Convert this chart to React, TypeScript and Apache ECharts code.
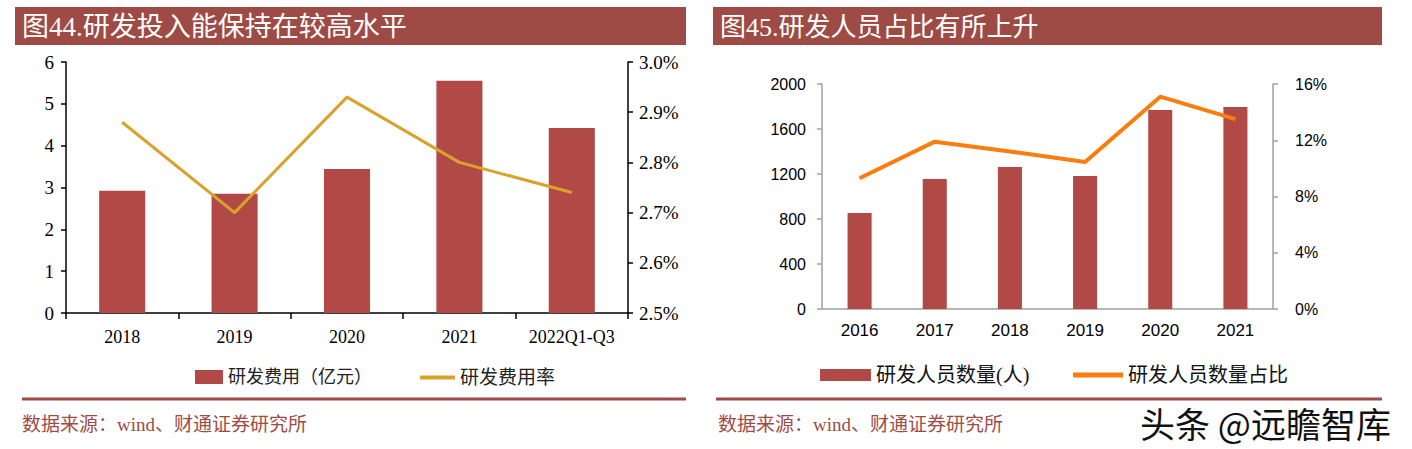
import React, { useEffect, useRef } from "react";
import * as echarts from "echarts";

const leftCategories = ["2018", "2019", "2020", "2021", "2022Q1-Q3"];
const rdExpense = [2.92, 2.85, 3.44, 5.55, 4.42];
const rdRate = [2.88, 2.70, 2.93, 2.80, 2.74];

const rightCategories = ["2016", "2017", "2018", "2019", "2020", "2021"];
const rdStaff = [853, 1156, 1262, 1182, 1769, 1796];
const rdStaffShare = [9.3, 11.9, 11.2, 10.45, 15.1, 13.5];

const leftTitle = "图44.研发投入能保持在较高水平";
const rightTitle = "图45.研发人员占比有所上升";
const sourceText = "数据来源：wind、财通证券研究所";
const watermark = "头条 @远瞻智库";

const BAR = "#B14A47";
const GOLD = "#D9A22A";
const ORANGE = "#FB7D0E";
const BROWN = "#9E4B45";
const SERIF = "'Liberation Serif', 'Noto Sans CJK SC', serif";
const SANS = "'Liberation Sans', Arial, 'Noto Sans CJK SC', sans-serif";
const CJK = "'Noto Sans CJK SC', sans-serif";

export default function App() {
  const ref = useRef<HTMLDivElement>(null);
  useEffect(() => {
    document.body.style.margin = "0";
    const chart = echarts.init(ref.current!, undefined, { renderer: "svg" });
    chart.setOption({
      animation: false,
      backgroundColor: "#fff",
      graphic: [
        { type: "rect", shape: { x: 15, y: 7, width: 671, height: 38 }, style: { fill: BROWN } },
        { type: "rect", shape: { x: 713, y: 7, width: 669, height: 38 }, style: { fill: BROWN } },
        { type: "text", x: 22, y: 27, style: { text: leftTitle, fill: "#fff", font: `27px ${SERIF}`, textVerticalAlign: "middle" } },
        { type: "text", x: 720, y: 27, style: { text: rightTitle, fill: "#fff", font: `26px ${SERIF}`, textVerticalAlign: "middle" } },
        { type: "line", shape: { x1: 22, y1: 399, x2: 686, y2: 399 }, style: { stroke: BROWN, lineWidth: 3 } },
        { type: "line", shape: { x1: 716, y1: 399, x2: 1382, y2: 399 }, style: { stroke: BROWN, lineWidth: 3 } },
        { type: "text", x: 22, y: 424, style: { text: sourceText, fill: BROWN, font: `19px ${SERIF}`, textVerticalAlign: "middle" } },
        { type: "text", x: 718, y: 424, style: { text: sourceText, fill: BROWN, font: `19px ${SERIF}`, textVerticalAlign: "middle" } },
        { type: "text", x: 1140, y: 422, z: 10, style: { text: watermark, fill: "#111", stroke: "#fff", lineWidth: 2, font: `35px ${CJK}`, textVerticalAlign: "middle" } },
      ],
      legend: [
        {
          left: 190, top: 363, itemWidth: 28, itemHeight: 14, itemGap: 8,
          data: [{ name: "研发费用（亿元）", icon: "rect" }],
          textStyle: { fontFamily: SERIF, fontSize: 18, color: "#222" },
        },
        {
          left: 415, top: 363, itemWidth: 35, itemHeight: 4,
          data: [{ name: "研发费用率", icon: "rect" }],
          textStyle: { fontFamily: SERIF, fontSize: 19, color: "#222" },
        },
        {
          left: 815, top: 360, itemWidth: 51, itemHeight: 12,
          data: [{ name: "研发人员数量(人)", icon: "rect" }],
          textStyle: { fontFamily: SERIF, fontSize: 20, color: "#111" },
        },
        {
          left: 1068, top: 360, itemWidth: 50, itemHeight: 5,
          data: [{ name: "研发人员数量占比", icon: "rect" }],
          textStyle: { fontFamily: SERIF, fontSize: 20, color: "#111" },
        },
      ],
      grid: [
        { left: 66, right: 1412 - 628, top: 62, bottom: 449 - 313 },
        { left: 822, right: 1412 - 1273, top: 84, bottom: 449 - 309 },
      ],
      xAxis: [
        {
          type: "category", gridIndex: 0, data: leftCategories,
          axisLine: { lineStyle: { color: "#000", width: 1.5 } },
          axisTick: { show: true, length: 6, lineStyle: { color: "#000", width: 1.5 } },
          axisLabel: { color: "#000", fontFamily: SERIF, fontSize: 18, margin: 15, interval: 0, hideOverlap: false },
        },
        {
          type: "category", gridIndex: 1, data: rightCategories,
          axisLine: { lineStyle: { color: "#A0A0A0", width: 1.5 } },
          axisTick: { show: false },
          axisLabel: { color: "#000", fontFamily: SANS, fontSize: 17, margin: 13, interval: 0 },
        },
      ],
      yAxis: [
        {
          type: "value", gridIndex: 0, min: 0, max: 6, interval: 1,
          axisLine: { show: true, lineStyle: { color: "#000", width: 1.5 } },
          axisTick: { show: true, length: 5, lineStyle: { color: "#000", width: 1.5 } },
          splitLine: { show: false },
          axisLabel: { color: "#000", fontFamily: SERIF, fontSize: 19, margin: 12 },
        },
        {
          type: "value", gridIndex: 0, position: "right", min: 2.5, max: 3.0, interval: 0.1,
          axisLine: { show: true, lineStyle: { color: "#000", width: 1.5 } },
          axisTick: { show: true, length: 5, lineStyle: { color: "#000", width: 1.5 } },
          splitLine: { show: false },
          axisLabel: { color: "#000", fontFamily: SERIF, fontSize: 19, margin: 11, formatter: (v: number) => v.toFixed(1) + "%" },
        },
        {
          type: "value", gridIndex: 1, min: 0, max: 2000, interval: 400,
          axisLine: { show: true, lineStyle: { color: "#A0A0A0", width: 1.5 } },
          axisTick: { show: true, length: 5, lineStyle: { color: "#A0A0A0", width: 1.5 } },
          splitLine: { show: false },
          axisLabel: { color: "#000", fontFamily: SANS, fontSize: 16, margin: 16, formatter: (v: number) => String(v) },
        },
        {
          type: "value", gridIndex: 1, position: "right", min: 0, max: 16, interval: 4,
          axisLine: { show: true, lineStyle: { color: "#A0A0A0", width: 1.5 } },
          axisTick: { show: true, length: 5, lineStyle: { color: "#A0A0A0", width: 1.5 } },
          splitLine: { show: false },
          axisLabel: { color: "#000", fontFamily: SANS, fontSize: 16, margin: 22, formatter: (v: number) => v + "%" },
        },
      ],
      series: [
        {
          name: "研发费用（亿元）", type: "bar", xAxisIndex: 0, yAxisIndex: 0,
          data: rdExpense, barWidth: "41%", itemStyle: { color: BAR },
        },
        {
          name: "研发费用率", type: "line", xAxisIndex: 0, yAxisIndex: 1,
          data: rdRate, symbol: "none", lineStyle: { color: GOLD, width: 3 }, itemStyle: { color: GOLD },
        },
        {
          name: "研发人员数量(人)", type: "bar", xAxisIndex: 1, yAxisIndex: 2,
          data: rdStaff, barWidth: "32%", itemStyle: { color: BAR },
        },
        {
          name: "研发人员数量占比", type: "line", xAxisIndex: 1, yAxisIndex: 3,
          data: rdStaffShare, symbol: "none", lineStyle: { color: ORANGE, width: 4 }, itemStyle: { color: ORANGE },
        },
      ],
    });
    return () => chart.dispose();
  }, []);
  return <div ref={ref} style={{ position: "absolute", left: 0, top: 0, width: 1412, height: 449 }} />;
}
